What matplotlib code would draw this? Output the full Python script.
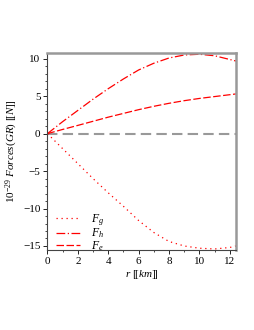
import matplotlib
matplotlib.use("Agg")
import matplotlib.pyplot as plt
from matplotlib.ticker import MultipleLocator

r = [0, 1, 2, 3, 4, 5, 6, 7, 8, 9, 10, 11, 12, 12.4]
F_g = [0, -2.0, -4.0, -6.0, -7.9, -9.7, -11.6, -13.2, -14.4, -15.0, -15.3, -15.4, -15.2, -15.0]
F_h = [0, 1.6, 3.1, 4.6, 6.0, 7.3, 8.5, 9.4, 10.1, 10.5, 10.6, 10.4, 9.9, 9.7]
F_e = [0, 0.56, 1.1, 1.65, 2.2, 2.7, 3.2, 3.65, 4.05, 4.4, 4.7, 4.95, 5.2, 5.3]
labels = [r"$F_g$", r"$F_h$", r"$F_e$"]
xticks = [0, 2, 4, 6, 8, 10, 12]
yticks = [-15, -10, -5, 0, 5, 10]

plt.rcParams['font.family'] = ['Liberation Serif', 'DejaVu Sans']
plt.rcParams['mathtext.fontset'] = 'custom'
plt.rcParams['mathtext.rm'] = 'Liberation Serif'
plt.rcParams['mathtext.it'] = 'Liberation Serif:italic'

fig = plt.figure(figsize=(2.55, 3.3), dpi=100)
ax = fig.add_axes([0.186, 0.241, 0.739, 0.598])

red = '#ff0000'
ax.axhline(0, color='#999999', lw=1.5, ls=(0, (5, 2.5)), zorder=1)
ax.plot(r, F_g, color=red, lw=0.9, ls=(0, (1, 3)), label=labels[0])
ax.plot(r, F_h, color=red, lw=0.9, ls=(0, (7, 2, 1, 2)), label=labels[1])
ax.plot(r, F_e, color=red, lw=0.9, ls=(0, (6, 2)), label=labels[2])

ax.set_xlim(0, 12.4)
ax.set_ylim(-15.6, 10.75)
ax.set_xticks(xticks)
ax.set_yticks(yticks)
ax.xaxis.set_minor_locator(MultipleLocator(1))
ax.yaxis.set_minor_locator(MultipleLocator(1))
ax.tick_params(axis='both', which='major', labelsize=8, length=3, width=0.6, pad=2)
ax.tick_params(axis='both', which='minor', length=1.5, width=0.5)

for s in ['left', 'bottom']:
    ax.spines[s].set_color('#444444')
    ax.spines[s].set_linewidth(0.8)
for s in ['top', 'right']:
    ax.spines[s].set_color('#999999')
    ax.spines[s].set_linewidth(1.8)

ax.set_xlabel(r"$r$ $[\![km]\!]$", fontsize=8, labelpad=1)
ax.set_ylabel(r"$10^{-29}$ $Forces(GR)$ $[\![N]\!]$", fontsize=8, labelpad=2)

leg = ax.legend(loc='lower left', bbox_to_anchor=(0.0, -0.055), frameon=False,
                fontsize=8.5, handlelength=2.1, labelspacing=-0.1,
                borderaxespad=0.3, handletextpad=0.9)

fig.savefig('out.png', dpi=100)
